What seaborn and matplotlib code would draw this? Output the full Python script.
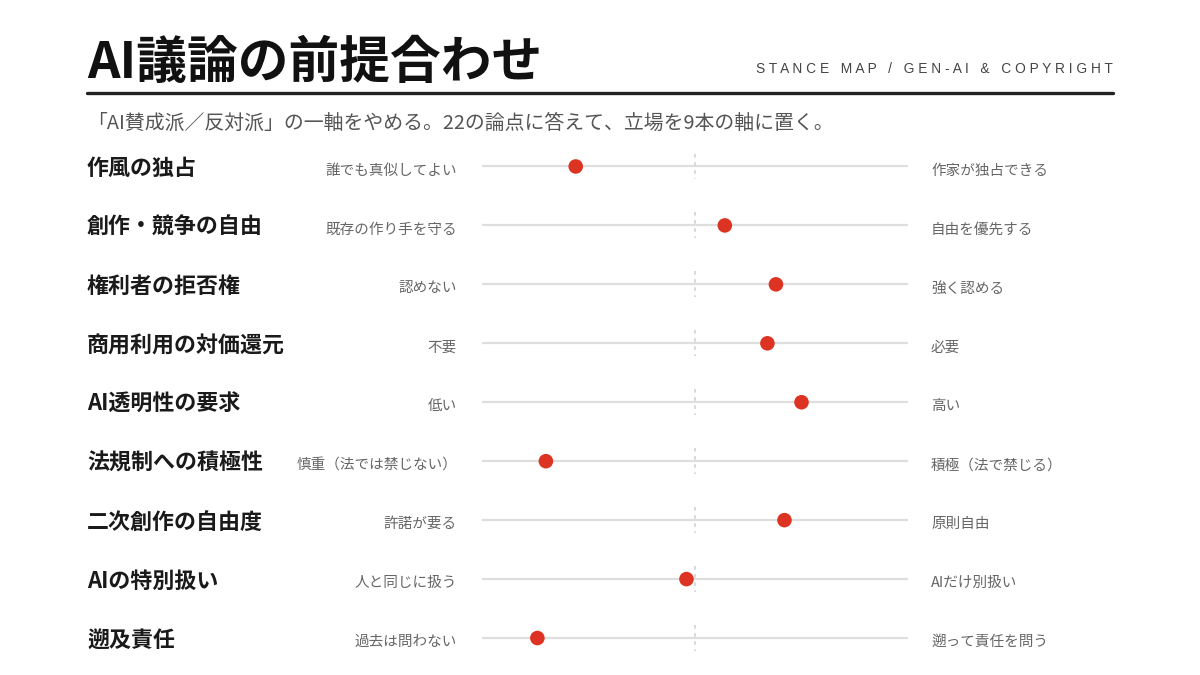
import matplotlib
matplotlib.use('Agg')
import matplotlib.pyplot as plt
import matplotlib.transforms as mtransforms
import pandas as pd
import seaborn as sns

# 9本の軸（0=左端, 100=右端）
topics = ['作風の独占', '創作・競争の自由', '権利者の拒否権', '商用利用の対価還元', 'AI透明性の要求',
          '法規制への積極性', '二次創作の自由度', 'AIの特別扱い', '遡及責任']
left_labels = ['誰でも真似してよい', '既存の作り手を守る', '認めない', '不要', '低い',
               '慎重（法では禁じない）', '許諾が要る', '人と同じに扱う', '過去は問わない']
right_labels = ['作家が独占できる', '自由を優先する', '強く認める', '必要', '高い',
                '積極（法で禁じる）', '原則自由', 'AIだけ別扱い', '遡って責任を問う']
scores = [22, 57, 69, 67, 75, 15, 71, 48, 13]

df = pd.DataFrame({'topic': topics, 'score': scores, 'row': range(len(topics))})

sns.set_style('white')
plt.rcParams['font.family'] = ['Noto Sans CJK JP', 'DejaVu Sans']

W, H = 1200, 675
fig = plt.figure(figsize=(12, 6.75), dpi=100)
fig.patch.set_facecolor('white')

# axes: x 0..100 -> px 482..908, rows 0..8 -> px 166.5..638
top_px, bot_px = 137, 667.5
ax = fig.add_axes([482 / W, 1 - bot_px / H, 426 / W, (bot_px - top_px) / H])
ax.set_xlim(0, 100)
ax.set_ylim(len(topics) - 0.5, -0.5)
ax.axis('off')

rows = df['row']
ax.hlines(rows, 0, 100, color='#dedede', lw=1.6, zorder=1)
ax.vlines([50] * len(rows), rows - 0.22, rows + 0.22, color='#d6d6d6', lw=1.3,
          linestyles=(0, (2, 2.5)), zorder=1)
sns.scatterplot(data=df, x='score', y='row', ax=ax, s=110, color='#dd3322',
                edgecolor='none', zorder=3, legend=False, clip_on=False)

tr = mtransforms.blended_transform_factory(fig.transFigure, ax.transData)
for i, (t, l, r) in enumerate(zip(topics, left_labels, right_labels)):
    ax.text(87 / W, i + 0.04, t, transform=tr, ha='left', va='center',
            fontsize=15.8, fontweight='bold', color='#1a1a1a')
    ax.text(457 / W, i + 0.07, l, transform=tr, ha='right', va='center',
            fontsize=10.5, color='#666666')
    ax.text(931 / W, i + 0.07, r, transform=tr, ha='left', va='center',
            fontsize=10.5, color='#666666')

# header
fig.text(87 / W, 1 - 78 / H, 'AI議論の前提合わせ', ha='left', va='baseline',
         fontsize=36.5, fontweight='bold', color='#111111')
fig.text(1113 / W, 1 - 73 / H, 'S T A N C E   M A P   /   G E N - A I   &   C O P Y R I G H T',
         ha='right', va='baseline', fontsize=9.9, color='#444444',
         family=['Liberation Sans', 'DejaVu Sans'])
fig.add_artist(plt.Line2D([87 / W, 1113 / W], [1 - 92.5 / H] * 2, color='#222222', lw=2.4,
                          transform=fig.transFigure))
fig.text(87 / W, 1 - 123 / H, '「AI賛成派／反対派」の一軸をやめる。22の論点に答えて、立場を9本の軸に置く。',
         ha='left', va='center', fontsize=14.3, color='#555555')

fig.savefig('out.png', dpi=100, facecolor='white')
